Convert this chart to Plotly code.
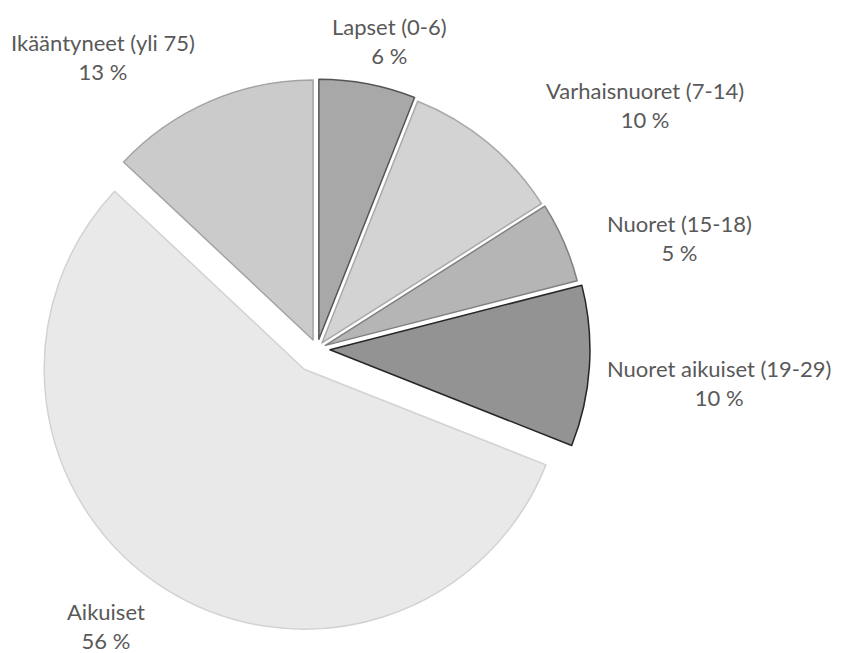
import plotly.graph_objects as go

labels = ["Lapset (0-6)", "Varhaisnuoret (7-14)", "Nuoret (15-18)",
          "Nuoret aikuiset (19-29)", "Aikuiset", "Ikääntyneet (yli 75)"]
values = [6, 10, 5, 10, 56, 13]

fills = ["#a8a8a8", "#d3d3d3", "#b5b5b5", "#939393", "#e9e9e9", "#cbcbcb"]
edges = ["#555555", "#a9a9a9", "#808080", "#262626", "#d2d2d2", "#a3a3a3"]
pulls = [0.038, 0.03, 0.035, 0.05, 0.092, 0.038]

# label anchor positions (paper coords), layout only
label_pos = [(0.4542, 0.9495), (0.7574, 0.8515), (0.7990, 0.6478),
             (0.8450, 0.4257), (0.1165, 0.0536), (0.1130, 0.9250)]

fig = go.Figure(go.Pie(
    labels=labels, values=values, sort=False, direction="clockwise",
    rotation=0, pull=pulls, textinfo="none", hoverinfo="label+percent",
    marker=dict(colors=fills, line=dict(color=edges, width=1.5)),
    domain=dict(x=[0.02985, 0.7050], y=[0.0430, 0.9126]),
    showlegend=False,
))

total = sum(values)
for lab, v, (x, y) in zip(labels, values, label_pos):
    fig.add_annotation(
        x=x, y=y, xref="paper", yref="paper", showarrow=False,
        text=f"{lab}<br>{round(100 * v / total)} %",
        font=dict(family="Lato, 'Open Sans', sans-serif", size=22, color="#595959"),
        align="center", xanchor="center", yanchor="middle",
    )

fig.update_layout(
    width=841, height=653, margin=dict(l=0, r=0, t=0, b=0),
    paper_bgcolor="white", plot_bgcolor="white",
)
fig.write_html("out.html")
